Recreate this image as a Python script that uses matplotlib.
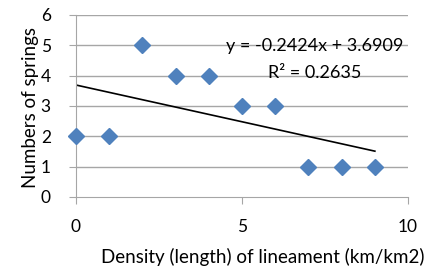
import numpy as np
import matplotlib.pyplot as plt

plt.rcParams['font.family'] = ['Lato', 'DejaVu Sans']

# density of lineament (km/km2) and number of springs
density = [0, 1, 2, 3, 4, 5, 6, 7, 8, 9]
springs = [2, 2, 5, 4, 4, 3, 3, 1, 1, 1]

x = np.array(density, dtype=float)
y = np.array(springs, dtype=float)
slope, intercept = np.polyfit(x, y, 1)
pred = slope * x + intercept
r2 = 1 - np.sum((y - pred) ** 2) / np.sum((y - y.mean()) ** 2)

fig = plt.figure(figsize=(4.36, 2.72), dpi=100)
ax = fig.add_axes([0.174, 0.276, 0.762, 0.669])

grid_c = '#a6a6a6'
ax.set_xlim(0, 10)
ax.set_ylim(0, 6)
ax.set_yticks(range(0, 7))
ax.set_xticks([0, 5, 10])
for v in range(1, 7):
    ax.axhline(v, color=grid_c, lw=1.0, zorder=0)

ax.plot(x, y, 'D', color='#4f81bd', ms=8, mec='#4f81bd', zorder=3, clip_on=False)
xs = np.array([x.min(), x.max()])
ax.plot(xs, slope * xs + intercept, color='black', lw=1.2, zorder=2)

ax.text(7.2, 4.97, 'y = %.4fx + %.4f' % (slope, intercept), ha='center', va='center', fontsize=13)
ax.text(7.2, 4.1, 'R\u00b2 = %.4f' % r2, ha='center', va='center', fontsize=13)

for s in ['top', 'right']:
    ax.spines[s].set_visible(False)
for s in ['left', 'bottom']:
    ax.spines[s].set_color(grid_c)
ax.tick_params(axis='both', color=grid_c, length=5, labelsize=12.5, direction='out')
ax.tick_params(axis='x', pad=11)
ax.tick_params(axis='y', pad=13)

ax.set_xlabel('Density (length) of lineament (km/km2)', fontsize=13.5)
ax.set_ylabel('Numbers of springs', fontsize=13.5)
ax.xaxis.set_label_coords(263 / 436, 1 - 248 / 272, transform=fig.transFigure)
ax.yaxis.set_label_coords(39 / 436, 1 - 108 / 272, transform=fig.transFigure)

fig.savefig('out.png', dpi=100)
